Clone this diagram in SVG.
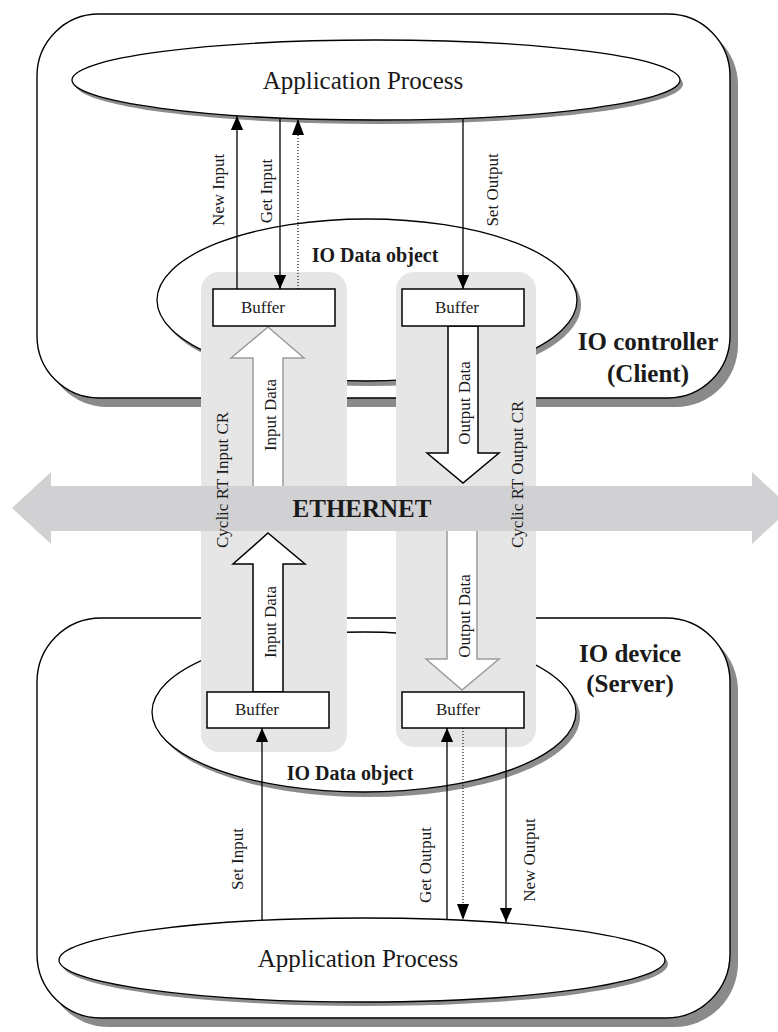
<svg xmlns="http://www.w3.org/2000/svg" width="778" height="1032" viewBox="0 0 778 1032">
  <defs>
    <marker id="head" markerUnits="userSpaceOnUse" markerWidth="14" markerHeight="16" viewBox="0 0 16 14" refX="16" refY="7" orient="auto">
      <path d="M0,0 L16,7 L0,14 Z" fill="#000"/>
    </marker>
    <style>
      text { font-family: "Liberation Serif", "Times New Roman", serif; fill: #1a1a1a; }
      .box { fill: #fff; stroke: #000; stroke-width: 1.4; }
      .boxshadow { fill: #8a8a8a; }
      .ell { fill: #fff; stroke: #000; stroke-width: 1.3; }
      .ellshadow { fill: #8c8c8c; }
      .cr { fill: #e6e6e6; }
      .buf { fill: #fff; stroke: #000; stroke-width: 1.5; }
      .lbl { font-size: 17px; text-anchor: middle; }
      .big { font-size: 25px; text-anchor: middle; }
      .bold { font-weight: bold; text-anchor: middle; }
      .wire { stroke: #000; stroke-width: 1.3; fill: none; }
      .dots { stroke: #000; stroke-width: 1.1; stroke-dasharray: 1 2; fill: none; }
      .fat-black { fill: #fff; stroke: #000; stroke-width: 1.5; }
      .fat-gray { fill: #fff; stroke: #9c9c9c; stroke-width: 1.5; }
    </style>
  </defs>

  <!-- IO controller enclosure -->
  <g id="io-controller">
    <rect class="boxshadow" x="45" y="23" width="693" height="384" rx="62"/>
    <rect class="box" x="37" y="14" width="693" height="384" rx="62"/>
    <text class="bold" x="648" y="350" font-size="25">IO controller</text>
    <text class="bold" x="648" y="382" font-size="25">(Client)</text>
  </g>

  <!-- IO device enclosure -->
  <g id="io-device">
    <rect class="boxshadow" x="45" y="627" width="693" height="400" rx="64"/>
    <rect class="box" x="37" y="618" width="693" height="400" rx="64"/>
    <text class="bold" x="630" y="662" font-size="25">IO device</text>
    <text class="bold" x="630" y="692" font-size="25">(Server)</text>
  </g>

  <!-- application processes -->
  <g id="app-controller">
    <ellipse class="ellshadow" cx="379" cy="84" rx="304" ry="40"/>
    <ellipse class="ell" cx="376" cy="80" rx="304" ry="40"/>
    <text class="big" x="363" y="89">Application Process</text>
  </g>
  <g id="app-device">
    <ellipse class="ellshadow" cx="365" cy="964" rx="303" ry="42"/>
    <ellipse class="ell" cx="362" cy="960" rx="303" ry="42"/>
    <text class="big" x="358" y="967">Application Process</text>
  </g>

  <!-- IO data objects -->
  <g id="iodata-controller">
    <ellipse class="ellshadow" cx="371" cy="305" rx="210" ry="81"/>
    <ellipse class="ell" cx="367" cy="300" rx="210" ry="81"/>
  </g>
  <g id="iodata-device">
    <ellipse class="ellshadow" cx="368" cy="717" rx="212" ry="80"/>
    <ellipse class="ell" cx="364" cy="712" rx="212" ry="80"/>
  </g>

  <!-- cyclic real-time communication relations -->
  <g id="cr-input">
    <rect class="cr" x="201" y="272" width="146" height="480" rx="18"/>
  </g>
  <g id="cr-output">
    <rect class="cr" x="396" y="272" width="140" height="475" rx="18"/>
  </g>

  <!-- data flow arrows -->
  <g id="input-data-up">
    <path class="fat-gray" d="M268,327 L304,358 L283,358 L283,488 L253,488 L253,358 L231,358 Z"/>
  </g>
  <g id="output-data-down">
    <path class="fat-black" d="M448,326 L478,326 L478,453 L499,453 L463,483 L427,453 L448,453 Z"/>
  </g>
  <g id="input-data-dev">
    <path class="fat-black" d="M268,533 L305,564 L283,564 L283,692 L253,692 L253,564 L233,564 Z"/>
  </g>
  <g id="output-data-dev">
    <path class="fat-gray" d="M447,529 L477,529 L477,659 L499,659 L462,690 L426,659 L447,659 Z"/>
  </g>

  <!-- Ethernet backbone -->
  <g id="ethernet">
    <path d="M12,508 L51,472 L51,486 L752,486 L752,472 L791,508 L752,544 L752,531 L51,531 L51,544 Z" fill="#d1d1d3"/>
    <text class="bold" x="362" y="517" font-size="25">ETHERNET</text>
  </g>

  <!-- buffers -->
  <g id="buffer-in-ctrl">
    <rect class="buf" x="213" y="289" width="122" height="37"/>
    <text x="263" y="313" font-size="17" text-anchor="middle">Buffer</text>
  </g>
  <g id="buffer-out-ctrl">
    <rect class="buf" x="402" y="289" width="122" height="37"/>
    <text x="457" y="313" font-size="17" text-anchor="middle">Buffer</text>
  </g>
  <g id="buffer-in-dev">
    <rect class="buf" x="207" y="692" width="122" height="36"/>
    <text x="257" y="715" font-size="17" text-anchor="middle">Buffer</text>
  </g>
  <g id="buffer-out-dev">
    <rect class="buf" x="402" y="692" width="122" height="36"/>
    <text x="458" y="715" font-size="17" text-anchor="middle">Buffer</text>
  </g>

  <!-- service primitives between application and buffers -->
  <g id="connectors">
    <line class="wire" x1="237" y1="289" x2="237" y2="116" marker-end="url(#head)"/>
    <line class="wire" x1="280" y1="119" x2="280" y2="289" marker-end="url(#head)"/>
    <line class="dots" x1="298" y1="289" x2="298" y2="120"/>
    <path d="M298,119 L292,135 L304,135 Z" fill="#000"/>
    <line class="wire" x1="463" y1="119" x2="463" y2="289" marker-end="url(#head)"/>

    <line class="wire" x1="262" y1="920" x2="262" y2="728" marker-end="url(#head)"/>
    <line class="wire" x1="447" y1="919" x2="447" y2="728" marker-end="url(#head)"/>
    <line class="dots" x1="463" y1="728" x2="463" y2="918"/>
    <path d="M463,920 L457,904 L469,904 Z" fill="#000"/>
    <line class="wire" x1="506" y1="728" x2="506" y2="922" marker-end="url(#head)"/>
  </g>

  <!-- labels -->
  <g id="labels">
    <text class="bold" x="375" y="262" font-size="20">IO Data object</text>
    <text class="bold" x="350" y="780" font-size="20">IO Data object</text>

    <text class="lbl" transform="translate(224,190) rotate(-90)">New Input</text>
    <text class="lbl" transform="translate(272,191) rotate(-90)">Get Input</text>
    <text class="lbl" transform="translate(498,190) rotate(-90)">Set Output</text>

    <text class="lbl" transform="translate(276,415) rotate(-90)">Input Data</text>
    <text class="lbl" transform="translate(470,403) rotate(-90)">Output Data</text>
    <text class="lbl" transform="translate(276,622) rotate(-90)">Input Data</text>
    <text class="lbl" transform="translate(470,616) rotate(-90)">Output Data</text>

    <text font-size="17" transform="translate(228,548) rotate(-90)">Cyclic RT Input CR</text>
    <text font-size="17" transform="translate(523,548) rotate(-90)">Cyclic RT Output CR</text>

    <text class="lbl" transform="translate(243,859) rotate(-90)">Set Input</text>
    <text class="lbl" transform="translate(431,865) rotate(-90)">Get Output</text>
    <text class="lbl" transform="translate(535,860) rotate(-90)">New Output</text>
  </g>
</svg>
